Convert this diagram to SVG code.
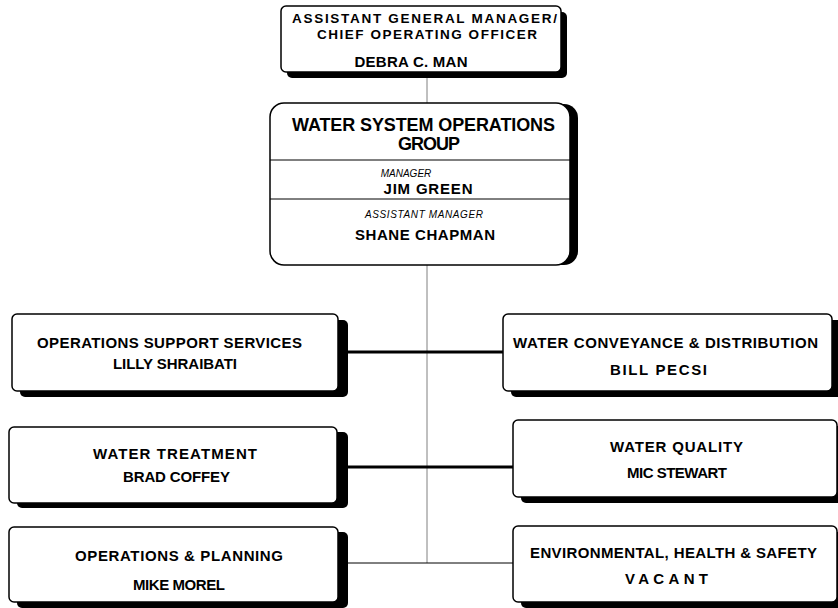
<svg xmlns="http://www.w3.org/2000/svg" width="838" height="608" viewBox="0 0 838 608">
<style>
.box{fill:#fff;stroke:#000;stroke-width:1.5}
.sh{fill:#000}
text{font-family:"Liberation Sans",Arial,sans-serif;font-weight:bold;fill:#000;text-anchor:middle}
.t{font-size:15px}
.s{font-size:13.5px}
.big{font-size:18px}
.it{font-size:10px;font-style:italic;font-weight:normal}
.thin{stroke:#808080;stroke-width:1;fill:none}
.thick{stroke:#000;stroke-width:3;fill:none}
.hl{stroke:#000;stroke-width:1;fill:none}
</style>
<rect width="838" height="608" fill="#fff"/>
<g id="connectors">
<line class="thin" x1="427" y1="72" x2="427" y2="563"/>
<line class="thick" x1="346" y1="352" x2="503" y2="352"/>
<line class="thick" x1="346" y1="467" x2="513" y2="467"/>
<line class="hl" x1="346" y1="563" x2="513" y2="563"/>
</g>
<g id="agm">
<rect class="sh" x="287" y="12" width="280" height="66" rx="5"/>
<rect class="box" x="281" y="6" width="280" height="66" rx="5"/>
<text class="s" x="424.5" y="22.5" textLength="265">ASSISTANT GENERAL MANAGER/</text>
<text class="s" x="427" y="38.5" textLength="220">CHIEF OPERATING OFFICER</text>
<text class="t" x="411" y="67" textLength="113">DEBRA C. MAN</text>
</g>
<g id="wso">
<rect class="sh" x="278" y="104" width="300" height="161" rx="14"/>
<rect class="box" x="270" y="103" width="300" height="162" rx="14"/>
<line stroke="#000" stroke-width="1" x1="270" y1="160" x2="570" y2="160"/>
<line stroke="#000" stroke-width="1" x1="270" y1="199" x2="570" y2="199"/>
<text class="big" x="423.5" y="131" textLength="263">WATER SYSTEM OPERATIONS</text>
<text class="big" x="429" y="150" textLength="62">GROUP</text>
<text class="it" x="406" y="177">MANAGER</text>
<text class="t" x="428" y="194" textLength="89">JIM GREEN</text>
<text class="it" x="424" y="218" textLength="118">ASSISTANT MANAGER</text>
<text class="t" x="425" y="240" textLength="140">SHANE CHAPMAN</text>
</g>
<g id="oss">
<rect class="sh" x="20" y="320" width="328" height="77" rx="5"/>
<rect class="box" x="12" y="314" width="326" height="77" rx="5"/>
<text class="t" x="169.5" y="348" textLength="265">OPERATIONS SUPPORT SERVICES</text>
<text class="t" x="175" y="369" textLength="124">LILLY SHRAIBATI</text>
</g>
<g id="wcd">
<rect class="sh" x="511" y="320" width="335" height="77" rx="5"/>
<rect class="box" x="503" y="314" width="329" height="77" rx="5"/>
<text class="t" x="665.5" y="348" textLength="305">WATER CONVEYANCE &amp; DISTRIBUTION</text>
<text class="t" x="658.5" y="375" textLength="97">BILL PECSI</text>
</g>
<g id="wt">
<rect class="sh" x="17" y="432" width="331" height="76" rx="5"/>
<rect class="box" x="9" y="427" width="328" height="76" rx="5"/>
<text class="t" x="175" y="459" textLength="164">WATER TREATMENT</text>
<text class="t" x="176.5" y="482" textLength="107">BRAD COFFEY</text>
</g>
<g id="wq">
<rect class="sh" x="521" y="426" width="330" height="77" rx="5"/>
<rect class="box" x="513" y="420" width="324" height="77" rx="5"/>
<text class="t" x="676.5" y="452" textLength="133">WATER QUALITY</text>
<text class="t" x="677" y="478" textLength="100">MIC STEWART</text>
</g>
<g id="op">
<rect class="sh" x="17" y="532" width="331" height="76" rx="5"/>
<rect class="box" x="9" y="527" width="329" height="75" rx="5"/>
<text class="t" x="179" y="561" textLength="208">OPERATIONS &amp; PLANNING</text>
<text class="t" x="179" y="590" textLength="92">MIKE MOREL</text>
</g>
<g id="ehs">
<rect class="sh" x="521" y="532" width="330" height="76" rx="5"/>
<rect class="box" x="513" y="526" width="324" height="76" rx="5"/>
<text class="t" x="673.5" y="558" textLength="287">ENVIRONMENTAL, HEALTH &amp; SAFETY</text>
<text class="t" x="666.5" y="584" textLength="83">VACANT</text>
</g>
</svg>
